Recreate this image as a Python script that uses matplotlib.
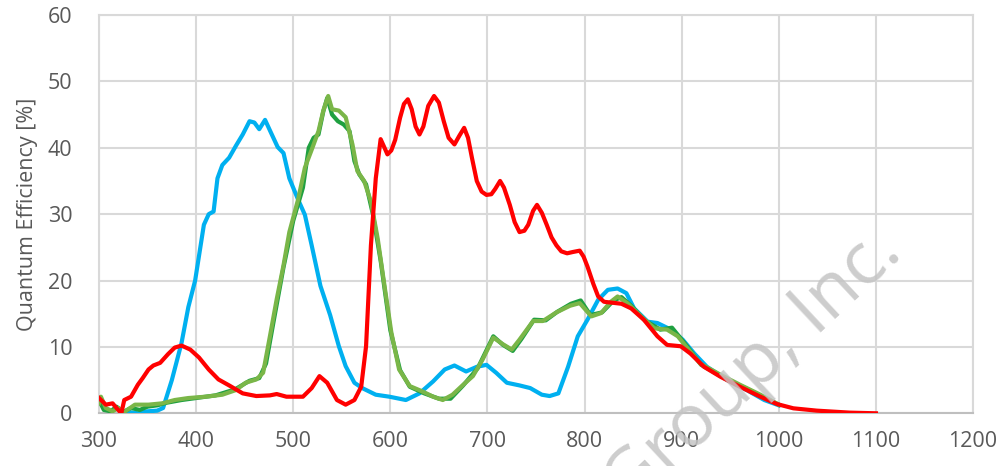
import matplotlib
matplotlib.use('Agg')
import matplotlib.pyplot as plt

plt.rcParams['font.family'] = ['Open Sans', 'DejaVu Sans']

# quantum efficiency curves
wl_blue = [330, 340, 350, 360, 366, 375, 385, 392, 399, 408, 413, 418, 422, 427, 434, 441, 448, 455, 460, 465,
           471, 477, 484, 490, 496, 505, 512, 519, 528, 538, 547, 554, 563, 571, 585, 599, 616, 630, 644, 656,
           666, 678, 689, 699, 709, 720, 733, 744, 756, 764, 773, 783, 793, 803, 814, 824, 834, 843, 851, 865,
           875, 889, 901, 913, 926, 947, 967, 985, 1000]
qe_blue = [0.2, 0.0, 0.3, 0.4, 0.8, 5.0, 10.6, 16.0, 20.0, 28.4, 30.0, 30.4, 35.4, 37.4, 38.5, 40.3, 42.0, 44.0, 43.8, 42.8,
           44.2, 42.3, 40.1, 39.2, 35.4, 32.2, 29.9, 25.3, 19.2, 14.8, 10.1, 7.1, 4.6, 3.8, 2.8, 2.5, 2.0, 3.0, 4.8, 6.6,
           7.2, 6.3, 7.0, 7.3, 6.1, 4.6, 4.2, 3.8, 2.8, 2.6, 3.0, 7.0, 11.6, 14.1, 17.1, 18.6, 18.8, 18.1, 15.8, 13.8,
           13.6, 12.6, 11.1, 9.0, 7.0, 5.0, 3.5, 2.0, 1.2]

wl_dgreen = [300, 305, 312, 318, 325, 333, 342, 350, 360, 370, 385, 400, 420, 440, 455, 465, 472, 480, 490, 500,
             510, 516, 521, 526, 531, 535, 540, 546, 552, 558, 563, 568, 575, 582, 590, 600, 610, 620, 635, 650,
             662, 675, 690, 706, 716, 726, 735, 748, 760, 772, 786, 796, 806, 818, 830, 838, 848, 862, 878, 890,
             905, 920, 945, 970, 1000]
qe_dgreen = [2.0, 0.5, 0.3, 1.0, 0.2, 0.8, 0.5, 1.0, 1.2, 1.6, 2.0, 2.3, 2.7, 3.6, 4.9, 5.3, 7.5, 14.0, 22.0, 29.0,
             34.0, 40.0, 41.5, 42.0, 45.5, 47.5, 45.0, 44.0, 43.5, 42.5, 38.0, 36.0, 34.5, 30.0, 23.0, 12.5, 6.5, 4.0, 3.0, 2.2,
             2.2, 4.2, 6.8, 11.6, 10.3, 9.4, 11.2, 14.1, 14.0, 15.3, 16.5, 17.0, 14.8, 15.2, 17.0, 17.5, 16.2, 14.0, 12.6, 12.9,
             10.2, 7.3, 5.2, 3.5, 1.3]

wl_lgreen = [300, 302, 307, 314, 320, 326, 337, 351, 365, 378, 392, 410, 427, 441, 451, 462, 469, 476, 483, 490,
             496, 505, 512, 519, 526, 531, 536, 540, 547, 554, 561, 566, 573, 580, 587, 594, 601, 609, 620, 633,
             644, 654, 664, 675, 685, 695, 706, 716, 725, 733, 747, 757, 771, 785, 795, 807, 817, 827, 834, 844,
             858, 872, 885, 896, 906, 919, 940, 960, 981, 1000]
qe_lgreen = [1.5, 2.5, 0.8, 0.3, 0.8, 0.2, 1.3, 1.3, 1.5, 2.0, 2.3, 2.5, 2.8, 3.5, 4.6, 5.1, 6.1, 11.6, 17.2, 22.3,
             27.3, 32.2, 37.0, 39.7, 42.5, 45.6, 47.8, 45.8, 45.6, 44.6, 40.5, 36.5, 35.0, 31.9, 26.3, 19.2, 12.2, 6.6, 4.1, 3.3,
             2.5, 2.0, 2.8, 4.3, 5.6, 8.1, 11.4, 10.4, 9.6, 11.1, 13.9, 13.9, 15.2, 16.2, 16.6, 14.6, 15.1, 16.8, 17.6, 16.6,
             14.6, 12.8, 12.6, 11.6, 9.8, 7.5, 5.8, 4.3, 2.8, 1.3]

wl_red = [300, 307, 314, 318, 323, 326, 333, 340, 345, 351,
          356, 363, 371, 378, 385, 394, 403, 413, 423, 434,
          448, 462, 476, 483, 493, 510, 519, 527, 535, 545,
          554, 563, 570, 575, 580, 585, 590, 594, 597, 601,
          605, 610, 614, 618, 622, 626, 630, 634, 639, 645,
          650, 655, 660, 666, 671, 676, 680, 684, 689, 694,
          699, 704, 708, 713, 717, 723, 728, 733, 738, 742,
          747, 751, 756, 761, 766, 771, 776, 782, 788, 795,
          799, 803, 809, 814, 820, 838, 848, 861, 875, 885,
          899, 909, 923, 940, 960, 981, 998, 1015, 1039, 1073,
          1100]
qe_red = [2.3, 1.3, 1.5, 0.8, 0.0, 2.0, 2.5, 4.3, 5.3, 6.6,
          7.2, 7.6, 8.9, 9.9, 10.2, 9.6, 8.4, 6.6, 5.1, 4.2,
          3.0, 2.6, 2.7, 2.9, 2.5, 2.5, 3.8, 5.6, 4.6, 2.0,
          1.3, 2.0, 4.0, 10.1, 25.3, 35.4, 41.3, 40.0, 39.0, 39.6,
          41.2, 44.5, 46.6, 47.3, 45.8, 43.2, 42.0, 43.2, 46.3, 47.8,
          46.8, 44.0, 41.5, 40.5, 41.8, 43.0, 41.5, 38.5, 35.0, 33.4,
          32.9, 33.0, 33.8, 35.0, 34.0, 31.4, 28.8, 27.3, 27.5, 28.4,
          30.5, 31.4, 30.2, 28.4, 26.5, 25.3, 24.4, 24.1, 24.3, 24.5,
          23.6, 22.1, 19.5, 17.6, 16.8, 16.5, 15.8, 14.1, 11.6, 10.3,
          10.1, 9.0, 7.0, 5.5, 4.0, 2.5, 1.4, 0.75, 0.4, 0.1,
          0.0]

x_ticks = [300, 400, 500, 600, 700, 800, 900, 1000, 1100, 1200]
y_ticks = [0, 10, 20, 30, 40, 50, 60]

txt = '#595959'
grid = '#d9d9d9'

fig = plt.figure(figsize=(10.05, 4.66), dpi=100)
ax = fig.add_axes([0.0985, 0.1131, 0.8697, 0.8547])

lw = 3.0
ax.plot(wl_blue, qe_blue, color='#00b0f0', lw=lw, solid_joinstyle='round', zorder=3)
ax.plot(wl_dgreen, qe_dgreen, color='#1fa040', lw=lw, solid_joinstyle='round', zorder=4)
ax.plot(wl_lgreen, qe_lgreen, color='#7ab648', lw=lw, solid_joinstyle='round', zorder=5)
ax.plot(wl_red, qe_red, color='#ff0000', lw=lw, solid_joinstyle='round', zorder=6)

ax.set_xlim(300, 1200)
ax.set_ylim(0, 60)
ax.set_xticks(x_ticks)
ax.set_yticks(y_ticks)
ax.grid(True, color=grid, lw=1.5, zorder=0)
ax.set_axisbelow(True)
for s in ax.spines.values():
    s.set_color(grid)
    s.set_linewidth(1.5)
ax.spines['bottom'].set_color('#bfbfbf')
ax.tick_params(axis='both', length=0, labelsize=15.5, labelcolor=txt)
ax.tick_params(axis='x', pad=13)
ax.tick_params(axis='y', pad=19)
ax.set_ylabel('Quantum Efficiency [%]', fontsize=15.5, color=txt, labelpad=7)

# watermark
fig.text(0.9, 0.452, 'Group, Inc.', fontsize=53, color='#c4c4c4', alpha=0.85,
         rotation=43, rotation_mode='anchor', ha='right', va='baseline', zorder=10)

plt.savefig('out.png', dpi=100, facecolor='w')
